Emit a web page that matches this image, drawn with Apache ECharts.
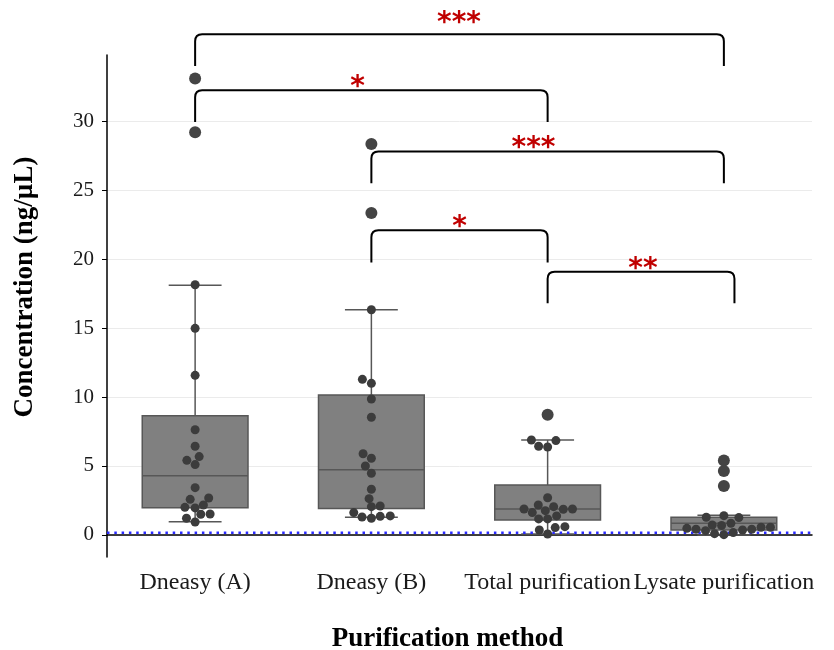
<!DOCTYPE html>
<html><head><meta charset="utf-8">
<script src="https://cdn.jsdelivr.net/npm/echarts@6/dist/echarts.min.js"></script>
<style>html,body{margin:0;padding:0;background:#fff}#c{width:834px;height:650px}</style>
</head><body><div id="c"></div>
<script>
// ---- data ----
const categories = ['Dneasy (A)', 'Dneasy (B)', 'Total purification', 'Lysate purification'];
const yTicks = [0, 5, 10, 15, 20, 25, 30];

const boxLow    = [0.96, 1.28, 0.07, 0.00];
const boxQ1     = [1.98, 1.91, 1.09, 0.36];
const boxMedian = [4.30, 4.73, 1.88, 0.85];
const boxQ3     = [8.64, 10.14, 3.62, 1.28];
const boxHigh   = [18.10, 16.33, 6.88, 1.43];

const pointsA = [18.14, 14.98, 11.57, 7.63, 6.43, 5.68, 5.41, 5.10, 3.43, 2.58, 2.68, 2.00, 1.96, 2.17, 1.50, 1.52, 1.21, 0.94];
const jitterA = [0, 0, 0, 0, 0, 0.023, -0.047, 0, 0, -0.028, 0.077, -0.058, 0, 0.047, 0.032, 0.085, -0.049, 0];
const pointsB = [16.33, 11.28, 10.99, 9.86, 8.53, 5.89, 5.56, 5.00, 4.47, 3.31, 2.63, 2.05, 2.10, 1.62, 1.30, 1.21, 1.35, 1.38];
const jitterB = [0, -0.051, 0, 0, 0, -0.047, 0, -0.034, 0, 0, -0.013, 0, 0.05, -0.1, -0.053, 0, 0.05, 0.107];
const pointsT = [6.88, 6.84, 6.43, 6.38, 2.70, 2.17, 2.05, 1.88, 1.62, 1.76, 1.86, 1.88, 1.38, 1.16, 1.16, 0.36, 0.53, 0.60, 0.07];
const jitterT = [-0.092, 0.047, -0.051, 0, 0, -0.053, 0.034, -0.134, -0.087, -0.013, 0.089, 0.141, 0.051, -0.051, 0, -0.047, 0.043, 0.098, 0];
const pointsL = [1.28, 1.40, 1.26, 0.85, 0.72, 0.68, 0.48, 0.41, 0.31, 0.09, 0.02, 0.17, 0.36, 0.41, 0.56, 0.56];
const jitterL = [-0.1, 0, 0.085, 0.04, -0.066, -0.013, -0.21, -0.158, -0.104, -0.053, 0, 0.053, 0.106, 0.158, 0.211, 0.264];

const outliersA = [33.1, 29.2];
const outliersB = [28.35, 23.35];
const outliersT = [8.72];
const outliersL = [5.39, 4.64, 3.55];

const detectionLimit = 0.15;

const bracketFrom   = [1, 1, 2, 2, 3];
const bracketTo     = [4, 3, 4, 3, 4.06];
const bracketTop    = [36.3, 32.25, 27.8, 22.1, 19.08];
const bracketEnd    = [34.0, 29.95, 25.5, 19.76, 16.8];
const bracketLabels = ['***', '*', '***', '*', '**'];
const labelX        = [2.497, 1.921, 2.92, 2.501, 3.541];
const labelY        = [37.6, 32.95, 28.54, 22.76, 19.77];

// ---- build ----
const groups = [[pointsA, jitterA], [pointsB, jitterB], [pointsT, jitterT], [pointsL, jitterL]];
const pointData = [];
groups.forEach((g, gi) => g[0].forEach((v, i) => pointData.push([gi + 1 + g[1][i], v])));
const outlierData = [];
[outliersA, outliersB, outliersT, outliersL].forEach((arr, gi) => arr.forEach(v => outlierData.push([gi + 1, v])));
const boxData = categories.map((c, i) => [i + 1, boxLow[i], boxQ1[i], boxMedian[i], boxQ3[i], boxHigh[i]]);
const bracketData = bracketFrom.map((f, i) => [f, bracketTo[i], bracketTop[i], bracketEnd[i], labelX[i], labelY[i]]);

const serif = 'Liberation Serif';
const chart = echarts.init(document.getElementById('c'), null, {renderer: 'canvas'});
chart.setOption({
  animation: false,
  backgroundColor: '#ffffff',
  grid: {left: 107, right: 22, top: 55, bottom: 93, containLabel: false, outerBoundsMode: 'none'},
  xAxis: [
    {
      type: 'category', data: categories, boundaryGap: true,
      axisLine: {lineStyle: {color: '#000', width: 1.5}},
      axisTick: {alignWithLabel: true, length: 5, lineStyle: {color: '#000', width: 1}},
      axisLabel: {interval: 0, hideOverlap: false, fontFamily: serif, fontSize: 24, color: '#1a1a1a', margin: 14},
      splitLine: {show: false},
      name: 'Purification method', nameLocation: 'middle', nameGap: 69,
      nameTextStyle: {fontFamily: serif, fontWeight: 'bold', fontSize: 27, color: '#000', padding: [0, 24, 0, 0]}
    },
    {type: 'value', min: 0.5, max: 4.5, show: false}
  ],
  yAxis: {
    type: 'value', min: -1.6, max: 34.8,
    axisLine: {show: true, lineStyle: {color: '#000', width: 1.5}},
    axisTick: {show: true, length: 5, customValues: yTicks, lineStyle: {color: '#000', width: 1}},
    axisLabel: {customValues: yTicks, fontFamily: serif, fontSize: 21, color: '#1a1a1a', margin: 13},
    splitLine: {show: true, lineStyle: {color: '#ebebeb', width: 1}},
    name: 'Concentration (ng/µL)', nameLocation: 'middle', nameGap: 68, nameRotate: 90,
    nameTextStyle: {fontFamily: serif, fontWeight: 'bold', fontSize: 27, color: '#000', padding: [0, 0, 0, 38]}
  },
  series: [
    {
      type: 'custom', xAxisIndex: 1, z: 2, data: boxData,
      renderItem: function (params, api) {
        const x = api.value(0), half = 0.3, cap = 0.15;
        const lo = api.value(1), q1 = api.value(2), med = api.value(3), q3 = api.value(4), hi = api.value(5);
        const c = (a, b) => api.coord([a, b]);
        const st = {stroke: '#575757', lineWidth: 1.5, fill: null};
        const tl = c(x - half, q3), br = c(x + half, q1);
        return {
          type: 'group', children: [
            {type: 'line', shape: {x1: c(x, q3)[0], y1: c(x, q3)[1], x2: c(x, hi)[0], y2: c(x, hi)[1]}, style: st},
            {type: 'line', shape: {x1: c(x, q1)[0], y1: c(x, q1)[1], x2: c(x, lo)[0], y2: c(x, lo)[1]}, style: st},
            {type: 'line', shape: {x1: c(x - cap, hi)[0], y1: c(x, hi)[1], x2: c(x + cap, hi)[0], y2: c(x, hi)[1]}, style: st},
            {type: 'line', shape: {x1: c(x - cap, lo)[0], y1: c(x, lo)[1], x2: c(x + cap, lo)[0], y2: c(x, lo)[1]}, style: st},
            {type: 'rect', shape: {x: tl[0], y: tl[1], width: br[0] - tl[0], height: br[1] - tl[1]}, style: {fill: '#808080', stroke: '#575757', lineWidth: 1.5}},
            {type: 'line', shape: {x1: tl[0], y1: c(x, med)[1], x2: br[0], y2: c(x, med)[1]}, style: st}
          ]
        };
      }
    },
    {
      type: 'custom', xAxisIndex: 1, z: 3, data: [[detectionLimit]],
      renderItem: function (params, api) {
        const a = api.coord([0.5, api.value(0)]), b = api.coord([4.5, api.value(0)]);
        return {type: 'line', shape: {x1: a[0], y1: a[1], x2: b[0], y2: b[1]},
          style: {stroke: '#2a2aff', lineWidth: 2.5, lineDash: [2.5, 4.8]}};
      }
    },
    {
      type: 'scatter', xAxisIndex: 1, z: 4, data: pointData, symbolSize: 9,
      itemStyle: {color: '#3c3c3c', opacity: 1}
    },
    {
      type: 'scatter', xAxisIndex: 1, z: 4, data: outlierData, symbolSize: 12,
      itemStyle: {color: '#444444', opacity: 1}
    },
    {
      type: 'custom', xAxisIndex: 1, z: 5, data: bracketData, clip: false,
      renderItem: function (params, api) {
        const f = api.value(0), t = api.value(1), top = api.value(2), end = api.value(3);
        const p1 = api.coord([f, end]), p2 = api.coord([f, top]), p3 = api.coord([t, top]), p4 = api.coord([t, end]);
        const r = 7;
        const d = 'M' + p1[0] + ' ' + p1[1] + ' L' + p2[0] + ' ' + (p2[1] + r) +
          ' Q' + p2[0] + ' ' + p2[1] + ' ' + (p2[0] + r) + ' ' + p2[1] +
          ' L' + (p3[0] - r) + ' ' + p3[1] +
          ' Q' + p3[0] + ' ' + p3[1] + ' ' + p3[0] + ' ' + (p3[1] + r) +
          ' L' + p4[0] + ' ' + p4[1];
        const lp = api.coord([api.value(4), api.value(5)]);
        return {
          type: 'group', children: [
            {type: 'path', shape: {pathData: d}, style: {stroke: '#000', lineWidth: 2, fill: null}},
            {type: 'text', x: lp[0], y: lp[1] + 7, style: {text: bracketLabels[params.dataIndex], fill: '#c00000',
              font: 'bold 28px "DejaVu Sans"', align: 'center', verticalAlign: 'middle'}}
          ]
        };
      }
    }
  ]
});
</script></body></html>
